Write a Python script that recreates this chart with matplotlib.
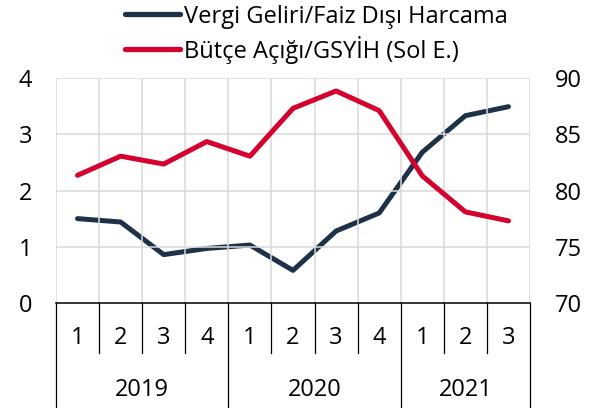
import matplotlib
matplotlib.use("Agg")
import matplotlib.pyplot as plt
import matplotlib.transforms as mtransforms
from matplotlib.lines import Line2D

plt.rcParams['font.family'] = ['Open Sans', 'DejaVu Sans']

quarters = ['1', '2', '3', '4', '1', '2', '3', '4', '1', '2', '3']
years = ['2019', '2020', '2021']
year_counts = [4, 4, 3]
butce_acigi = [2.27, 2.61, 2.47, 2.87, 2.61, 3.46, 3.77, 3.42, 2.26, 1.62, 1.46]
vergi_faiz = [77.5, 77.2, 74.3, 74.85, 75.15, 72.9, 76.4, 78.0, 83.4, 86.65, 87.45]

navy = '#1d3148'
red = '#d6002f'
grid_c = '#d9d9d9'
fs = 17

fig = plt.figure(figsize=(5.95, 4.08), dpi=100)
ax = fig.add_axes([56/595, 105/408, 474/595, 225/408])
ax2 = ax.twinx()

x = list(range(len(quarters)))
ax.plot(x, butce_acigi, color=red, lw=3.6, solid_capstyle='round', solid_joinstyle='round', zorder=3)
ax2.plot(x, vergi_faiz, color=navy, lw=3.6, solid_capstyle='round', solid_joinstyle='round', zorder=3)

ax.set_xlim(-0.5, len(quarters) - 0.5)
ax.set_ylim(0, 4)
ax2.set_ylim(70, 90)
ax.set_yticks([0, 1, 2, 3, 4])
ax2.set_yticks([70, 75, 80, 85, 90])

for a in (ax, ax2):
    for s in a.spines.values():
        s.set_visible(False)
    a.tick_params(axis='y', length=0, labelsize=fs)
ax.tick_params(axis='y', pad=17)
ax2.tick_params(axis='y', pad=18)
ax.set_xticks([])

# grid
for yv in [1, 2, 3, 4]:
    ax.axhline(yv, color=grid_c, lw=1.1, zorder=1)
for i in range(len(quarters) + 1):
    ax.axvline(i - 0.5, color=grid_c, lw=1.1, zorder=1)
ax.set_zorder(ax2.get_zorder() + 1)
ax.patch.set_visible(False)

# bottom category axis
trans = mtransforms.blended_transform_factory(ax.transData, ax.transAxes)
ax.plot([-0.5, len(quarters) - 0.5], [0, 0], color='black', lw=1.1, transform=trans, clip_on=False, zorder=4)
year_bounds = [-0.5]
for c in year_counts:
    year_bounds.append(year_bounds[-1] + c)
for i in range(len(quarters) + 1):
    b = i - 0.5
    y_end = -0.47 if b in year_bounds else -0.222
    ax.plot([b, b], [0, y_end], color='black', lw=0.9, transform=trans, clip_on=False)
for i, q in enumerate(quarters):
    ax.text(i, -0.156, q, transform=trans, ha='center', va='center', fontsize=fs)
for k, yr in enumerate(years):
    mid = (year_bounds[k] + year_bounds[k + 1]) / 2
    ax.text(mid, -0.387, yr, transform=trans, ha='center', va='center', fontsize=fs)

handles = [Line2D([], [], color=navy, lw=3.8, solid_capstyle='round'),
           Line2D([], [], color=red, lw=3.8, solid_capstyle='round')]
labels = ['Vergi Geliri/Faiz Dışı Harcama', 'Bütçe Açığı/GSYİH (Sol E.)']
fig.legend(handles, labels, loc='upper left', bbox_to_anchor=(116/595, 1.012), frameon=False,
           fontsize=fs, handlelength=2.3, handletextpad=0.17, labelspacing=0.3, borderaxespad=0)

fig.savefig('out.png', dpi=100)
